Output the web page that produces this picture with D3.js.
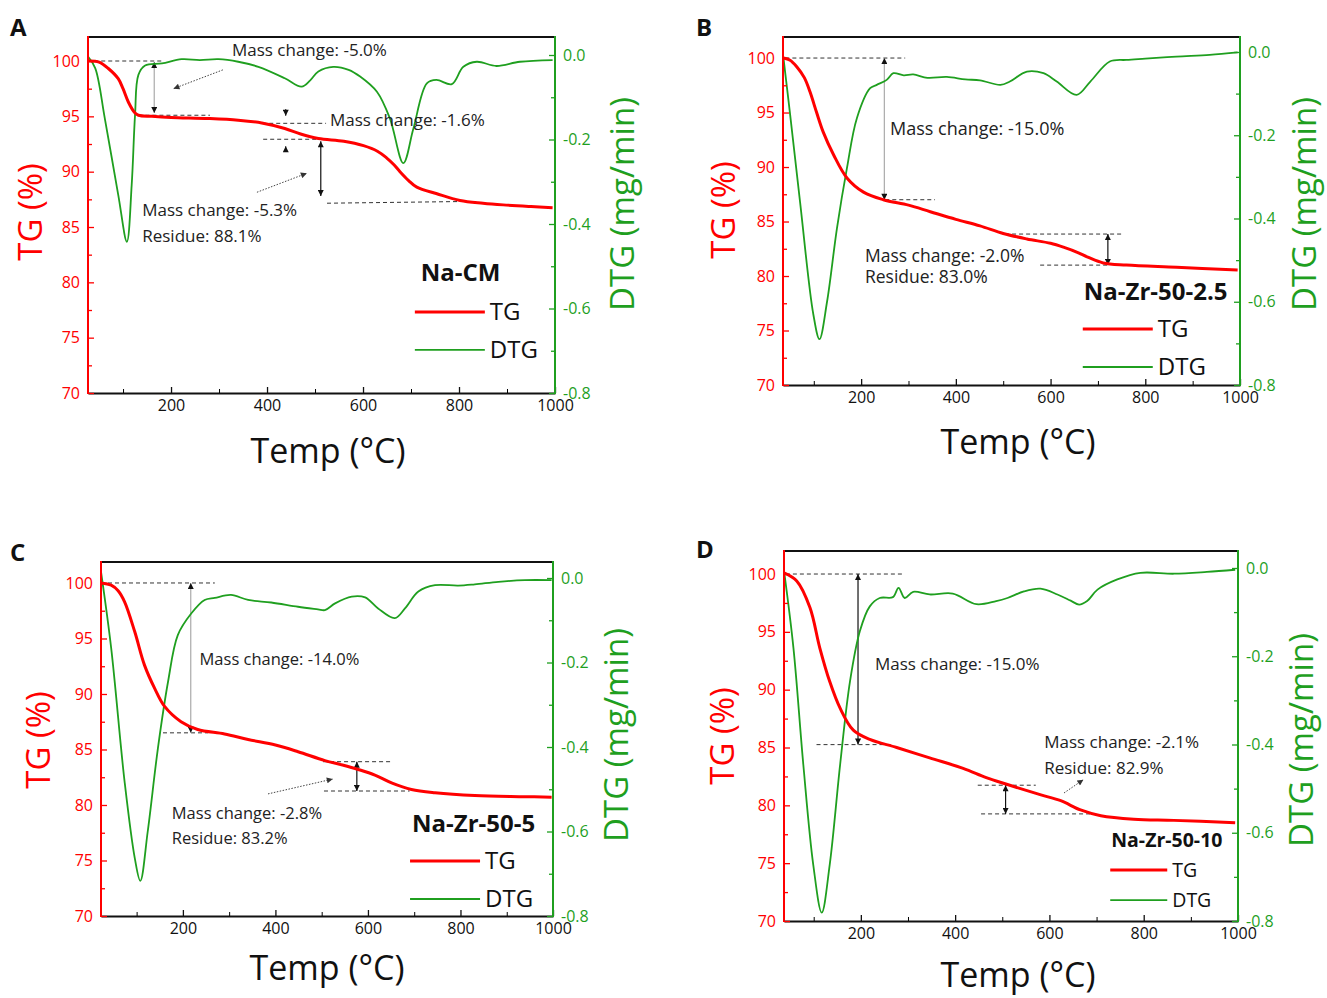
<!DOCTYPE html>
<html>
<head>
<meta charset="utf-8">
<script src="https://cdn.jsdelivr.net/npm/d3@7"></script>
<style>
html,body{margin:0;padding:0;background:#fff;}
svg{display:block;font-family:"Open Sans","Noto Sans",sans-serif;}
</style>
</head>
<body>
<svg id="chart" width="1327" height="998"></svg>
<script>
// ---------------- DATA ----------------
const panelLetters = ["A", "B", "C", "D"];
const sampleNames = ["Na-CM", "Na-Zr-50-2.5", "Na-Zr-50-5", "Na-Zr-50-10"];
const xTicks = [200, 400, 600, 800, 1000];
const xMinorTicks = [100, 300, 500, 700, 900];
const tgTicks = [70, 75, 80, 85, 90, 95, 100];
const tgMinorTicks = [72.5, 77.5, 82.5, 87.5, 92.5, 97.5];
const dtgTicks = [-0.8, -0.6, -0.4, -0.2, 0.0];
const dtgMinorTicks = [-0.7, -0.5, -0.3, -0.1];

// Panel A: Na-CM
const tgA_T = [27, 50, 70, 90, 100, 111, 125, 132, 160, 200, 278, 340, 389, 437, 470, 507, 560, 601, 630, 649, 665, 677, 695, 712, 754, 802, 850, 892, 950, 995];
const tgA_V = [100, 99.9, 99.3, 98.4, 97.5, 96.3, 95.3, 95.1, 95.0, 94.9, 94.8, 94.65, 94.4, 93.9, 93.4, 93.0, 92.75, 92.35, 91.85, 91.25, 90.6, 90.0, 89.2, 88.6, 88.0, 87.4, 87.15, 87.0, 86.85, 86.75];
const dtgA_T = [27, 42, 62, 90, 108, 118, 125, 132, 146, 181, 222, 260, 299, 340, 382, 437, 472, 490, 507, 538, 570, 594, 629, 656, 684, 705, 733, 753, 785, 809, 837, 878, 927, 995];
const dtgA_V = [-0.004, -0.031, -0.150, -0.331, -0.442, -0.308, -0.142, -0.047, -0.025, -0.020, -0.010, -0.012, -0.010, -0.016, -0.028, -0.055, -0.075, -0.060, -0.039, -0.028, -0.035, -0.051, -0.087, -0.150, -0.256, -0.174, -0.067, -0.059, -0.069, -0.028, -0.016, -0.026, -0.016, -0.012];

// Panel B: Na-Zr-50-2.5
const tgB_T = [36, 50, 64, 80, 92, 106, 120, 142, 170, 205, 247, 300, 346, 400, 451, 500, 550, 600, 630, 655, 680, 711, 760, 866, 995];
const tgB_V = [100, 99.8, 99.2, 98.2, 96.9, 95.0, 93.2, 91.1, 89.0, 87.7, 87.0, 86.5, 85.9, 85.2, 84.6, 83.9, 83.4, 83.0, 82.6, 82.2, 81.7, 81.2, 81.0, 80.8, 80.55];
const dtgB_T = [36, 50, 71, 99, 112, 128, 149, 170, 191, 219, 233, 254, 268, 290, 310, 340, 381, 420, 451, 494, 514, 550, 585, 613, 655, 684, 725, 760, 800, 866, 936, 995];
const dtgB_V = [-0.015, -0.15, -0.36, -0.63, -0.69, -0.60, -0.423, -0.279, -0.159, -0.087, -0.079, -0.067, -0.051, -0.056, -0.054, -0.062, -0.060, -0.066, -0.068, -0.079, -0.071, -0.047, -0.051, -0.071, -0.103, -0.071, -0.023, -0.019, -0.016, -0.011, -0.007, -0.001];

// Panel C: Na-Zr-50-5
const tgC_T = [23, 45, 60, 74, 96, 117, 139, 160, 196, 232, 290, 341, 400, 449, 507, 545, 579, 615, 651, 694, 745, 831, 939, 997];
const tgC_V = [100, 99.8, 99.3, 98.3, 95.6, 92.6, 90.5, 88.9, 87.5, 86.8, 86.4, 85.9, 85.4, 84.8, 84.0, 83.6, 83.2, 82.7, 82.0, 81.4, 81.1, 80.85, 80.75, 80.7];
const dtgC_T = [23, 45, 74, 96, 108, 124, 146, 168, 189, 218, 247, 269, 304, 341, 391, 449, 492, 507, 529, 565, 594, 622, 658, 680, 709, 745, 795, 831, 882, 939, 997];
const dtgC_V = [0.015, -0.166, -0.482, -0.663, -0.717, -0.600, -0.403, -0.245, -0.135, -0.084, -0.052, -0.047, -0.040, -0.052, -0.058, -0.068, -0.074, -0.076, -0.060, -0.044, -0.046, -0.072, -0.095, -0.072, -0.032, -0.017, -0.018, -0.015, -0.009, -0.005, -0.005];

// Panel D: Na-Zr-50-10
const tgD_T = [37, 64, 92, 113, 134, 156, 184, 219, 276, 346, 417, 466, 511, 582, 624, 666, 709, 779, 864, 994];
const tgD_V = [100.1, 99.4, 97.1, 93.6, 90.7, 88.4, 86.5, 85.7, 85.0, 84.1, 83.2, 82.4, 81.8, 80.9, 80.4, 79.6, 79.1, 78.8, 78.7, 78.5];
const dtgD_T = [37, 57, 78, 99, 117, 134, 156, 177, 198, 219, 240, 268, 280, 293, 311, 346, 395, 445, 487, 511, 546, 581, 617, 645, 663, 680, 702, 744, 793, 864, 934, 994];
const dtgD_V = [-0.006, -0.181, -0.446, -0.672, -0.781, -0.672, -0.446, -0.257, -0.143, -0.087, -0.068, -0.066, -0.045, -0.068, -0.054, -0.060, -0.058, -0.082, -0.075, -0.068, -0.053, -0.047, -0.060, -0.074, -0.083, -0.075, -0.049, -0.026, -0.011, -0.013, -0.009, -0.004];

// Annotation texts
const notesA = ["Mass change: -5.0%", "Mass change: -1.6%", "Mass change: -5.3%", "Residue: 88.1%"];
const notesB = ["Mass change: -15.0%", "Mass change: -2.0%", "Residue: 83.0%"];
const notesC = ["Mass change: -14.0%", "Mass change: -2.8%", "Residue: 83.2%"];
const notesD = ["Mass change: -15.0%", "Mass change: -2.1%", "Residue: 82.9%"];

// ---------------- LAYOUT / STYLE ----------------
const RED = "#ff0000", GREEN = "#1f9f1f";
const zip = (a, b) => a.map((t, i) => [t, b[i]]);

const panels = [
  { letter: panelLetters[0], name: sampleNames[0], box: {l: 88, r: 555, t: 37, b: 393},
    xDom: [27, 1000], tgDom: [70, 102.17], dtgDom: [-0.8, 0.0426],
    tg: zip(tgA_T, tgA_V), dtg: zip(dtgA_T, dtgA_V),
    letterPos: [10, 36], tgTitle: [30, 212], dtgTitle: [622, 204], xTitle: [328, 463],
    legend: {x: 708, nameY: 80.85, tgY: 77.33, dtgY: 73.9, fs: 24, lw: 70, nx: 6},
    dashed: [[40, 182, 100, 100], [132, 281, 95.1, 95.1], [390, 523, 94.37, 94.37], [392, 506, 92.93, 92.93], [525, 800, 87.15, 87.3]],
    arrows: [[165, 99.9, 95.3, "#aaa"], [512, 92.75, 87.8, "#111"]],
    pointers: [[439, 95.66, 95.05], [439, 91.78, 92.3]],
    dotted: [[308, 99.2, 205, 97.5], [379, 88.14, 483, 89.86]],
    texts: [[327, 101.0, notesA[0], 17], [531, 94.67, notesA[1], 17], [140, 86.54, notesA[2], 17], [140, 84.19, notesA[3], 17]] },
  { letter: panelLetters[1], name: sampleNames[1], box: {l: 783, r: 1240, t: 37, b: 385},
    xDom: [35, 1000], tgDom: [70, 101.93], dtgDom: [-0.8, 0.036],
    tg: zip(tgB_T, tgB_V), dtg: zip(dtgB_T, dtgB_V),
    letterPos: [696, 36], tgTitle: [723, 210], dtgTitle: [1304, 204], xTitle: [1018, 454],
    legend: {x: 668, nameY: 78.53, tgY: 75.14, dtgY: 71.65, fs: 24, lw: 70, nx: 1},
    dashed: [[40, 293, 100, 100], [251, 356, 87.0, 87.0], [504, 751, 83.85, 83.85], [578, 725, 81.0, 81.0]],
    arrows: [[249, 100, 87.0, "#aaa"], [721, 83.85, 81.0, "#111"]],
    pointers: [], dotted: [],
    texts: [[261, 93.5, notesB[0], 18], [208, 81.83, notesB[1], 17.5], [208, 79.9, notesB[2], 17.5]] },
  { letter: panelLetters[2], name: sampleNames[2], box: {l: 101, r: 553, t: 562, b: 916},
    xDom: [23, 1000], tgDom: [70, 101.89], dtgDom: [-0.8, 0.0379],
    tg: zip(tgC_T, tgC_V), dtg: zip(dtgC_T, dtgC_V),
    letterPos: [10, 561], tgTitle: [38, 740], dtgTitle: [616, 735], xTitle: [327, 980],
    legend: {x: 691, nameY: 78.29, tgY: 74.95, dtgY: 71.53, fs: 24, lw: 70, nx: 2},
    dashed: [[23, 269, 100, 100], [157, 254, 86.5, 86.5], [503, 648, 83.9, 83.9], [505, 690, 81.26, 81.26]],
    arrows: [[217, 100, 86.5, "#aaa"], [576, 83.9, 81.26, "#111"]],
    pointers: [], dotted: [[384, 81.0, 524, 82.34]],
    texts: [[236, 93.1, notesC[0], 16.5], [176, 79.3, notesC[1], 16.5], [176, 77.0, notesC[2], 16.5]] },
  { letter: panelLetters[3], name: sampleNames[3], box: {l: 784, r: 1238, t: 551, b: 921},
    xDom: [37, 1000], tgDom: [70, 101.99], dtgDom: [-0.8, 0.0385],
    tg: zip(tgD_T, tgD_V), dtg: zip(dtgD_T, dtgD_V),
    letterPos: [696, 558], tgTitle: [722, 736], dtgTitle: [1301, 740], xTitle: [1018, 987],
    legend: {x: 729, nameY: 77.0, tgY: 74.42, dtgY: 71.8, fs: 19.5, lw: 57, nx: 1},
    dashed: [[41, 293, 100, 100], [106, 265, 85.25, 85.25], [448, 571, 81.74, 81.74], [455, 691, 79.26, 79.26]],
    arrows: [[194, 100, 85.25, "#111"], [507, 81.74, 79.26, "#111"]],
    pointers: [], dotted: [[631, 81.07, 672, 82.22]],
    texts: [[230, 92.2, notesD[0], 17], [589, 85.48, notesD[1], 17], [589, 83.23, notesD[2], 17]] }
];

// ---------------- DRAW ----------------
const svg = d3.select("#chart");
const defs = svg.append("defs");
function marker(id, color) {
  defs.append("marker").attr("id", id).attr("viewBox", "0 0 10 10")
    .attr("refX", 10).attr("refY", 5).attr("markerWidth", 7).attr("markerHeight", 6)
    .attr("markerUnits", "userSpaceOnUse").attr("orient", "auto-start-reverse")
    .append("path").attr("d", "M0,0 L10,5 L0,10 z").attr("fill", color);
}
marker("ahead", "#111");
marker("ahead2", "#333");

const fmt1 = d => d.toFixed(1);
const TICKFS = 16;

panels.forEach((p, i) => {
  const {l, r, t, b} = p.box;
  const x = d3.scaleLinear().domain(p.xDom).range([l, r]);
  const yTG = d3.scaleLinear().domain(p.tgDom).range([b, t]);
  const yD = d3.scaleLinear().domain(p.dtgDom).range([b, t]);
  const g = svg.append("g");

  const clipId = "clip" + i;
  defs.append("clipPath").attr("id", clipId).append("rect")
    .attr("x", l).attr("y", t).attr("width", r - l).attr("height", b - t);

  // annotations (below curves)
  const ann = g.append("g");
  p.dashed.forEach(d => {
    ann.append("line").attr("x1", x(d[0])).attr("x2", x(d[1])).attr("y1", yTG(d[2])).attr("y2", yTG(d[3]))
      .attr("stroke", "#333").attr("stroke-width", 1).attr("stroke-dasharray", "4,3");
  });
  p.arrows.forEach(d => {
    ann.append("line").attr("x1", x(d[0])).attr("x2", x(d[0])).attr("y1", yTG(d[1])).attr("y2", yTG(d[2]))
      .attr("stroke", d[3]).attr("stroke-width", 1.2)
      .attr("marker-start", "url(#ahead)").attr("marker-end", "url(#ahead)");
  });
  p.pointers.forEach(d => {
    ann.append("line").attr("x1", x(d[0])).attr("x2", x(d[0])).attr("y1", yTG(d[1])).attr("y2", yTG(d[2]))
      .attr("stroke", "#111").attr("stroke-width", 1)
      .attr("marker-end", "url(#ahead)");
  });
  p.dotted.forEach(d => {
    ann.append("line").attr("x1", x(d[0])).attr("x2", x(d[2])).attr("y1", yTG(d[1])).attr("y2", yTG(d[3]))
      .attr("stroke", "#444").attr("stroke-width", 1).attr("stroke-dasharray", "1.5,1.5")
      .attr("marker-end", "url(#ahead2)");
  });

  // curves
  const curves = g.append("g").attr("clip-path", `url(#${clipId})`);
  curves.append("path").datum(p.dtg)
    .attr("d", d3.line().x(d => x(d[0])).y(d => yD(d[1])).curve(d3.curveCatmullRom.alpha(0.5)))
    .attr("fill", "none").attr("stroke", GREEN).attr("stroke-width", 1.8);
  curves.append("path").datum(p.tg)
    .attr("d", d3.line().x(d => x(d[0])).y(d => yTG(d[1])).curve(d3.curveCatmullRom.alpha(0.5)))
    .attr("fill", "none").attr("stroke", RED).attr("stroke-width", 3);

  // annotation texts
  p.texts.forEach(d => {
    g.append("text").attr("x", x(d[0])).attr("y", yTG(d[1])).attr("dy", "0.35em")
      .attr("font-size", d[3]).attr("fill", "#222").text(d[2]);
  });

  // axes
  const axB = g.append("g").attr("transform", `translate(0,${b})`)
    .call(d3.axisBottom(x).tickValues(xTicks).tickSizeInner(-6).tickSizeOuter(0).tickPadding(7).tickFormat(d3.format("d")));
  g.append("g").attr("transform", `translate(0,${b})`)
    .call(d3.axisBottom(x).tickValues(xMinorTicks).tickSizeInner(-4).tickSizeOuter(0).tickFormat(""))
    .select(".domain").remove();
  axB.selectAll("text").attr("font-size", TICKFS).attr("fill", "#111").attr("font-family", "Open Sans");
  axB.select(".domain").attr("stroke", "#111").attr("stroke-width", 2);
  axB.selectAll(".tick line").attr("stroke", "#111").attr("stroke-width", 1.3);

  // top border
  g.append("line").attr("x1", l).attr("x2", r).attr("y1", t).attr("y2", t).attr("stroke", "#111").attr("stroke-width", 2);

  const axL = g.append("g").attr("transform", `translate(${l},0)`)
    .call(d3.axisLeft(yTG).tickValues(tgTicks).tickSizeInner(-6).tickSizeOuter(0).tickPadding(8).tickFormat(d3.format("d")));
  const axLm = g.append("g").attr("transform", `translate(${l},0)`)
    .call(d3.axisLeft(yTG).tickValues(tgMinorTicks).tickSizeInner(-4).tickSizeOuter(0).tickFormat(""));
  axLm.select(".domain").remove();
  axLm.selectAll("line").attr("stroke", RED).attr("stroke-width", 1.3);
  axL.selectAll("text").attr("font-size", TICKFS).attr("fill", RED).attr("font-family", "Open Sans");
  axL.selectAll("line").attr("stroke", RED).attr("stroke-width", 1.3);
  axL.select(".domain").attr("stroke", RED).attr("stroke-width", 2).attr("d", `M0,${b + 1}V${t - 1}`);

  const axR = g.append("g").attr("transform", `translate(${r},0)`)
    .call(d3.axisRight(yD).tickValues(dtgTicks).tickSizeInner(-6).tickSizeOuter(0).tickPadding(8).tickFormat(fmt1));
  const axRm = g.append("g").attr("transform", `translate(${r},0)`)
    .call(d3.axisRight(yD).tickValues(dtgMinorTicks).tickSizeInner(-4).tickSizeOuter(0).tickFormat(""));
  axRm.select(".domain").remove();
  axRm.selectAll("line").attr("stroke", GREEN).attr("stroke-width", 1.3);
  axR.selectAll("text").attr("font-size", TICKFS).attr("fill", GREEN).attr("font-family", "Open Sans");
  axR.selectAll("line").attr("stroke", GREEN).attr("stroke-width", 1.3);
  axR.select(".domain").attr("stroke", GREEN).attr("stroke-width", 2).attr("d", `M0,${b + 1}V${t - 1}`);

  // axis titles
  g.append("text").attr("transform", `translate(${p.tgTitle[0]},${p.tgTitle[1]}) rotate(-90)`)
    .attr("text-anchor", "middle").attr("dy", "0.35em").attr("font-size", 33).attr("fill", RED).text("TG (%)");
  g.append("text").attr("transform", `translate(${p.dtgTitle[0]},${p.dtgTitle[1]}) rotate(-90)`)
    .attr("text-anchor", "middle").attr("dy", "0.35em").attr("font-size", 33).attr("fill", GREEN).text("DTG (mg/min)");
  g.append("text").attr("x", p.xTitle[0]).attr("y", p.xTitle[1]).attr("text-anchor", "middle")
    .attr("font-size", 34).attr("fill", "#111").text("Temp (°C)");

  // panel letter
  g.append("text").attr("x", p.letterPos[0]).attr("y", p.letterPos[1]).attr("font-size", 24)
    .attr("font-weight", "bold").attr("fill", "#111").text(p.letter);

  // legend
  const L = p.legend;
  const lx0 = x(L.x);
  g.append("text").attr("x", lx0 + L.nx).attr("y", yTG(L.nameY)).attr("dy", "0.35em")
    .attr("font-size", L.fs).attr("font-weight", "bold").attr("fill", "#111").text(p.name);
  g.append("line").attr("x1", lx0).attr("x2", lx0 + L.lw).attr("y1", yTG(L.tgY)).attr("y2", yTG(L.tgY))
    .attr("stroke", RED).attr("stroke-width", 3);
  g.append("text").attr("x", lx0 + L.lw + 5).attr("y", yTG(L.tgY)).attr("dy", "0.35em")
    .attr("font-size", L.fs).attr("fill", "#111").text("TG");
  g.append("line").attr("x1", lx0).attr("x2", lx0 + L.lw).attr("y1", yTG(L.dtgY)).attr("y2", yTG(L.dtgY))
    .attr("stroke", GREEN).attr("stroke-width", 1.8);
  g.append("text").attr("x", lx0 + L.lw + 5).attr("y", yTG(L.dtgY)).attr("dy", "0.35em")
    .attr("font-size", L.fs).attr("fill", "#111").text("DTG");
});
</script>
</body>
</html>
